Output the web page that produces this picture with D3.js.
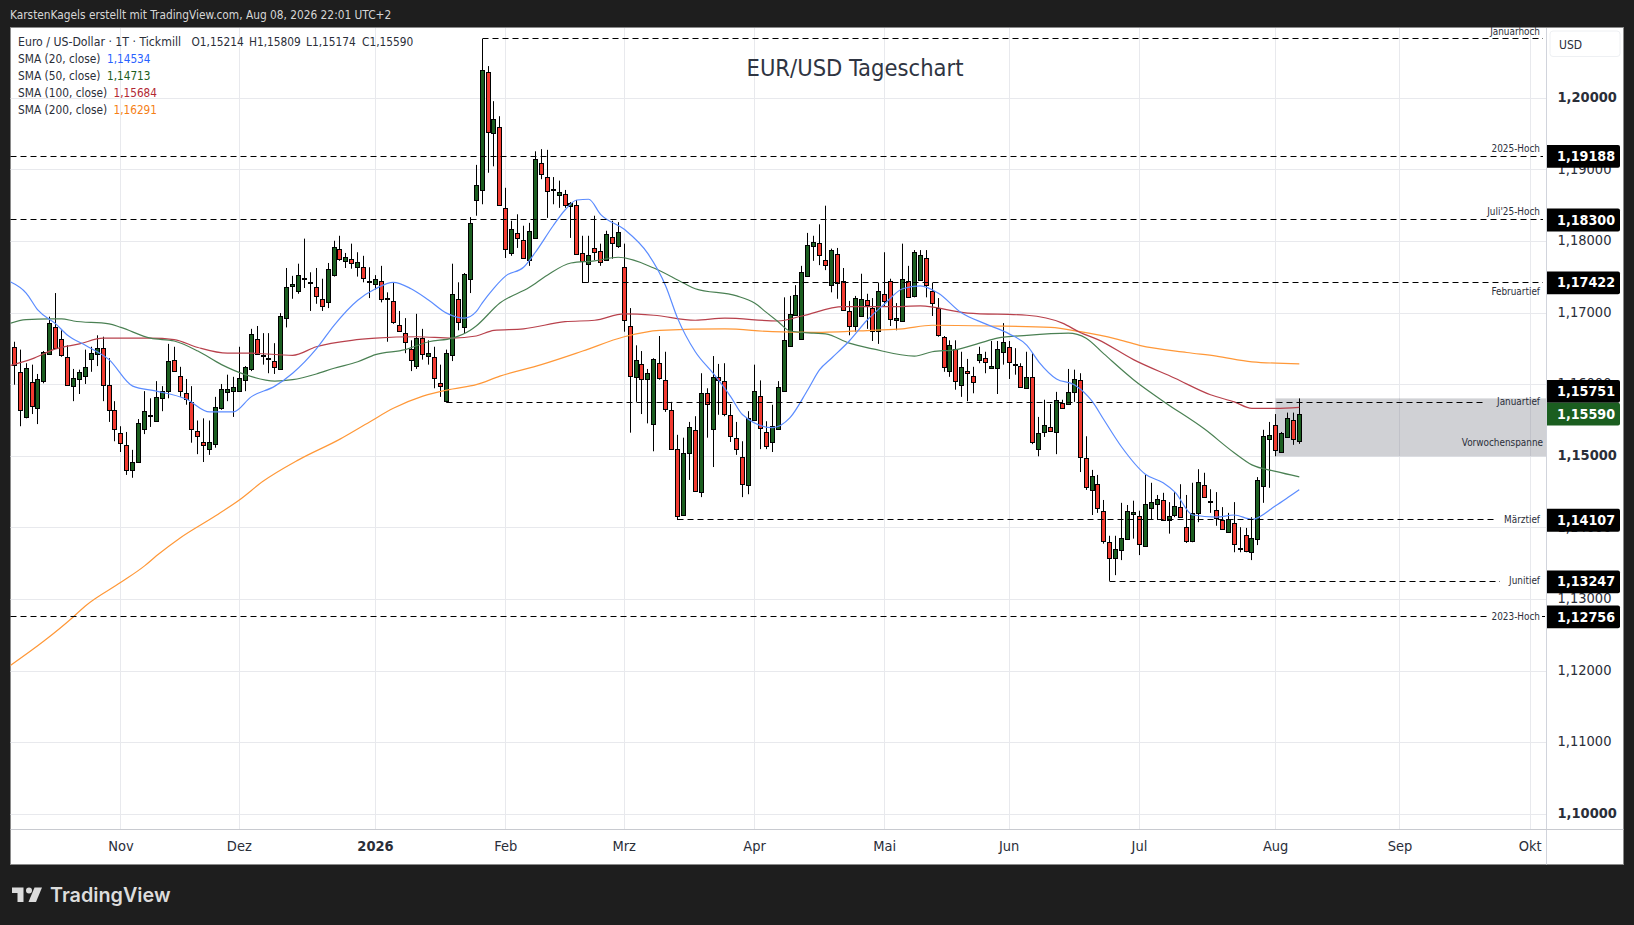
<!DOCTYPE html>
<html>
<head>
<meta charset="utf-8">
<title>EUR/USD Tageschart</title>
<script src="https://d3js.org/d3.v7.min.js"></script>
<style>
	html, body { margin: 0; padding: 0; background: #1e1e1e; overflow: hidden; }
	svg { display: block; }
	text { font-family: "DejaVu Sans Condensed", "DejaVu Sans", sans-serif; }
</style>
</head>
<body>
<svg id="chart" width="1634" height="925"></svg>
<script>
var opens = [
	1.1653,1.1618,1.1555,1.1604,1.1568,1.1605,1.1643,1.1680,1.1664,1.1639,
	1.1598,1.1608,1.1612,1.1635,1.1643,1.1651,1.1600,1.1565,1.1532,1.1516,
	1.1481,1.1491,1.1538,1.1557,1.1550,1.1581,1.1591,1.1635,1.1612,1.1588,
	1.1576,1.1535,1.1520,1.1510,1.1517,1.1568,1.1590,1.1591,1.1591,1.1607,
	1.1622,1.1664,1.1642,1.1636,1.1633,1.1622,1.1693,1.1738,1.1731,1.1748,
	1.1743,1.1736,1.1720,1.1715,1.1753,1.1790,1.1773,1.1776,1.1764,1.1764,
	1.1745,1.1741,1.1745,1.1721,1.1717,1.1683,1.1672,1.1650,1.1626,1.1665,
	1.1640,1.1639,1.1602,1.1577,1.1642,1.1720,1.1680,1.1748,1.1858,1.1873,
	1.2037,1.1952,1.1960,1.1847,1.1784,1.1812,1.1802,1.1774,1.1804,1.1910,
	1.1890,1.1873,1.1865,1.1866,1.1850,1.1851,1.1784,1.1769,1.1791,1.1787,
	1.1773,1.1806,1.1794,1.1764,1.1682,1.1611,1.1629,1.1608,1.1545,1.1630,
	1.1607,1.1565,1.1510,1.1419,1.1505,1.1537,1.1450,1.1588,1.1538,1.1611,
	1.1605,1.1558,1.1526,1.1499,1.1460,1.1551,1.1584,1.1534,1.1520,1.1538,
	1.1591,1.1654,1.1697,1.1664,1.1752,1.1794,1.1798,1.1774,1.1739,1.1783,
	1.1745,1.1703,1.1682,1.1696,1.1718,1.1707,1.1675,1.1727,1.1745,1.1690,
	1.1689,1.1745,1.1724,1.1746,1.1777,1.1731,1.1707,1.1667,1.1618,1.1650,
	1.1600,1.1619,1.1612,1.1635,1.1637,1.1623,1.1623,1.1646,1.1653,1.1629,
	1.1626,1.1595,1.1611,1.1510,1.1534,1.1541,1.1534,1.1574,1.1573,1.1590,
	1.1607,1.1498,1.1453,1.1461,1.1424,1.1380,1.1358,1.1369,1.1385,1.1419,
	1.1417,1.1375,1.1428,1.1433,1.1439,1.1412,1.1418,1.1429,1.1401,1.1382,
	1.1421,1.1460,1.1437,1.1425,1.1411,1.1394,1.1407,1.1372,1.1390,1.1366,
	1.1385,1.1458,1.1524,1.1544,1.1505,1.1526,1.1551,1.15214
]
var highs = [
	1.1660,1.1649,1.1630,1.1628,1.1615,1.1647,1.1695,1.1728,1.1676,1.1655,
	1.1622,1.1621,1.1649,1.1653,1.1669,1.1667,1.1637,1.1577,1.1542,1.1534,
	1.1509,1.1552,1.1591,1.1581,1.1605,1.1598,1.1657,1.1653,1.1625,1.1608,
	1.1598,1.1550,1.1553,1.1550,1.1583,1.1601,1.1614,1.1611,1.1653,1.1626,
	1.1678,1.1682,1.1672,1.1672,1.1658,1.1700,1.1763,1.1752,1.1769,1.1804,
	1.1757,1.1763,1.1748,1.1770,1.1801,1.1808,1.1784,1.1797,1.1785,1.1780,
	1.1764,1.1753,1.1766,1.1729,1.1743,1.1703,1.1693,1.1662,1.1699,1.1678,
	1.1662,1.1653,1.1628,1.1649,1.1769,1.1743,1.1756,1.1834,1.1907,1.2083,
	1.2045,1.1996,1.1975,1.1875,1.1829,1.1838,1.1822,1.1826,1.1926,1.1929,
	1.1928,1.1890,1.1885,1.1872,1.1855,1.1858,1.1808,1.1808,1.1836,1.1797,
	1.1815,1.1829,1.1827,1.1797,1.1707,1.1655,1.1647,1.1622,1.1637,1.1668,
	1.1646,1.1576,1.1530,1.1526,1.1548,1.1556,1.1616,1.1595,1.1640,1.1629,
	1.1630,1.1573,1.1548,1.1521,1.1563,1.1628,1.1606,1.1549,1.1572,1.1605,
	1.1722,1.1724,1.1739,1.1766,1.1812,1.1808,1.1824,1.1850,1.1790,1.1791,
	1.1763,1.1717,1.1724,1.1755,1.1727,1.1721,1.1742,1.1785,1.1748,1.1714,
	1.1797,1.1766,1.1788,1.1788,1.1788,1.1742,1.1721,1.1668,1.1662,1.1662,
	1.1646,1.1636,1.1625,1.1653,1.1646,1.1661,1.1661,1.1686,1.1661,1.1651,
	1.1630,1.1646,1.1644,1.1555,1.1579,1.1573,1.1590,1.1579,1.1622,1.1621,
	1.1616,1.1528,1.1481,1.1474,1.1439,1.1389,1.1389,1.1435,1.1432,1.1438,
	1.1424,1.1474,1.1463,1.1446,1.1449,1.1436,1.1450,1.1461,1.1446,1.1463,
	1.1482,1.1477,1.1454,1.1450,1.1429,1.1421,1.1436,1.1401,1.1400,1.1415,
	1.1471,1.1537,1.1548,1.1559,1.1534,1.1561,1.1561,1.15809
]
var lows = [
	1.1600,1.1542,1.1553,1.1559,1.1545,1.1602,1.1642,1.1650,1.1639,1.1600,
	1.1577,1.1587,1.1601,1.1618,1.1626,1.1577,1.1548,1.1521,1.1506,1.1474,
	1.1470,1.1491,1.1531,1.1541,1.1548,1.1563,1.1581,1.1619,1.1583,1.1572,
	1.1519,1.1503,1.1492,1.1502,1.1512,1.1565,1.1577,1.1555,1.1591,1.1591,
	1.1619,1.1642,1.1628,1.1616,1.1615,1.1622,1.1680,1.1720,1.1727,1.1735,
	1.1703,1.1713,1.1703,1.1707,1.1751,1.1773,1.1763,1.1762,1.1751,1.1743,
	1.1721,1.1733,1.1715,1.1660,1.1685,1.1674,1.1644,1.1619,1.1622,1.1635,
	1.1628,1.1595,1.1583,1.1575,1.1633,1.1676,1.1672,1.1728,1.1836,1.1852,
	1.1896,1.1905,1.1851,1.1777,1.1780,1.1791,1.1776,1.1766,1.1804,1.1887,
	1.1833,1.1852,1.1847,1.1847,1.1805,1.1783,1.1742,1.1743,1.1774,1.1766,
	1.1773,1.1776,1.1791,1.1674,1.1533,1.1576,1.1559,1.1546,1.1507,1.1607,
	1.1562,1.1510,1.1411,1.1417,1.1467,1.1452,1.1443,1.1526,1.1485,1.1558,
	1.1556,1.1520,1.1502,1.1443,1.1447,1.1551,1.1510,1.1510,1.1506,1.1537,
	1.1590,1.1653,1.1696,1.1664,1.1752,1.1773,1.1767,1.1760,1.1729,1.1720,
	1.1704,1.1669,1.1674,1.1695,1.1678,1.1661,1.1657,1.1710,1.1682,1.1676,
	1.1689,1.1722,1.1722,1.1746,1.1722,1.1696,1.1667,1.1618,1.1611,1.1593,
	1.1583,1.1577,1.1588,1.1630,1.1616,1.1622,1.1587,1.1628,1.1608,1.1614,
	1.1597,1.1595,1.1517,1.1500,1.1527,1.1535,1.1503,1.1567,1.1572,1.1576,
	1.1478,1.1453,1.1418,1.1421,1.1378,1.1326,1.1334,1.1355,1.1385,1.1385,
	1.1362,1.1375,1.1411,1.1411,1.1410,1.1392,1.1415,1.1414,1.1379,1.1380,
	1.1408,1.1442,1.1421,1.1403,1.1398,1.1394,1.1366,1.1366,1.1366,1.1355,
	1.1376,1.1435,1.1456,1.1500,1.1505,1.1526,1.1516,1.15174
]
var closes = [
	1.1628,1.1565,1.1623,1.1570,1.1608,1.1646,1.1686,1.1651,1.1642,1.1600,
	1.1609,1.1618,1.1625,1.1644,1.1651,1.1600,1.1565,1.1538,1.1518,1.1481,
	1.1492,1.1546,1.1563,1.1556,1.1583,1.1591,1.1633,1.1620,1.1591,1.1580,
	1.1538,1.1528,1.1516,1.1520,1.1569,1.1594,1.1594,1.1597,1.1609,1.1625,
	1.1671,1.1643,1.1641,1.1637,1.1625,1.1696,1.1736,1.1741,1.1753,1.1749,
	1.1741,1.1724,1.1710,1.1761,1.1792,1.1776,1.1778,1.1770,1.1771,1.1748,
	1.1744,1.1748,1.1720,1.1720,1.1688,1.1675,1.1660,1.1635,1.1665,1.1642,
	1.1644,1.1609,1.1598,1.1644,1.1727,1.1688,1.1754,1.1826,1.1879,1.2040,
	1.1953,1.1971,1.1851,1.1790,1.1817,1.1805,1.1777,1.1815,1.1915,1.1894,
	1.1871,1.1871,1.1869,1.1851,1.1854,1.1783,1.1773,1.1781,1.1785,1.1771,
	1.1810,1.1798,1.1813,1.1690,1.1612,1.1635,1.1608,1.1616,1.1636,1.1609,
	1.1567,1.1510,1.1417,1.1505,1.1541,1.1452,1.1588,1.1572,1.1611,1.1607,
	1.1559,1.1528,1.1510,1.1461,1.1553,1.1591,1.1540,1.1514,1.1542,1.1597,
	1.1662,1.1699,1.1725,1.1757,1.1795,1.1800,1.1781,1.1767,1.1788,1.1743,
	1.1704,1.1682,1.1721,1.1720,1.1711,1.1675,1.1731,1.1717,1.1692,1.1693,
	1.1748,1.1722,1.1785,1.1781,1.1739,1.1714,1.1669,1.1625,1.1655,1.1605,
	1.1625,1.1616,1.1604,1.1643,1.1632,1.1626,1.1650,1.1660,1.1632,1.1628,
	1.1597,1.1611,1.1520,1.1532,1.1544,1.1535,1.1579,1.1567,1.1590,1.1608,
	1.1500,1.1457,1.1472,1.1428,1.1382,1.1358,1.1371,1.1386,1.1424,1.1422,
	1.1378,1.1433,1.1436,1.1440,1.1411,1.1417,1.1430,1.1415,1.1382,1.1421,
	1.1464,1.1443,1.1436,1.1414,1.1398,1.1412,1.1378,1.1371,1.1368,1.1386,
	1.1467,1.1528,1.1530,1.1509,1.1532,1.1553,1.1524,1.15590
]

var sma20Bars = [-1,2,4,7,9,12,16,20,24,29,33,37,40,44,47,51,54,58,61,64,67,70,73,76,78,79,81,83,86,88,91,93,95,97,99,103,107,110,112,115,118,121,123,128,131,134,136,138,141,144,147,150,153,156,160,164,168,171,173,176,179,182,184,187,191,194,196,199,203,206,209,213,215,217]
var sma20 = [1.1745,1.1728,1.1704,1.1685,1.1669,1.1655,1.1635,1.1598,1.1591,1.1580,1.1562,1.1562,1.1583,1.1598,1.1616,1.1650,1.1683,1.1718,1.1734,1.1743,1.1734,1.1718,1.1700,1.1693,1.1702,1.1714,1.1735,1.1752,1.1764,1.1785,1.1822,1.1844,1.1858,1.1859,1.1838,1.1817,1.1783,1.1738,1.1693,1.1646,1.1616,1.1583,1.1558,1.1540,1.1554,1.1593,1.1621,1.1637,1.1661,1.1690,1.1713,1.1734,1.1738,1.1728,1.1700,1.1685,1.1671,1.1655,1.1632,1.1608,1.1600,1.1577,1.1551,1.1513,1.1475,1.1463,1.1450,1.1418,1.1415,1.1418,1.1412,1.1431,1.1442,1.14534]

var sma50Bars = [-1,2,6,8,10,16,18,23,27,31,35,39,44,47,51,54,58,61,66,70,74,77,78,82,87,90,94,98,102,108,113,115,122,125,127,129,131,135,137,141,145,152,155,159,163,166,171,178,181,184,189,194,201,206,209,213,217]
var sma50 = [1.1685,1.1691,1.1692,1.1692,1.1689,1.1685,1.1680,1.1665,1.1661,1.1647,1.1628,1.1614,1.1605,1.1607,1.1615,1.1623,1.1632,1.1642,1.1649,1.1660,1.1665,1.1676,1.1682,1.1714,1.1736,1.1753,1.1770,1.1773,1.1778,1.1763,1.1742,1.1734,1.1724,1.1714,1.1701,1.1688,1.1675,1.1672,1.1671,1.1658,1.1650,1.1640,1.1646,1.1649,1.1658,1.1665,1.1669,1.1672,1.1665,1.1643,1.1607,1.1577,1.1538,1.1505,1.1488,1.1479,1.14713]

var sma100Bars = [-1,3,7,11,15,23,27,31,36,40,47,51,57,61,68,74,78,81,86,93,98,103,108,115,120,129,133,140,148,153,161,171,177,180,183,189,196,202,206,209,213,217]
var sma100 = [1.1626,1.1636,1.1650,1.1657,1.1665,1.1665,1.1663,1.1652,1.1644,1.1644,1.1641,1.1653,1.1662,1.1665,1.1667,1.1665,1.1668,1.1676,1.1678,1.1688,1.1690,1.1699,1.1697,1.1690,1.1693,1.1689,1.1696,1.1709,1.1709,1.1710,1.1700,1.1697,1.1686,1.1673,1.1663,1.1635,1.1609,1.1586,1.1576,1.1567,1.1567,1.15684]

var sma200Bars = [-1,5,10,12,18,22,24,28,34,38,42,48,55,60,64,69,74,78,82,89,96,103,109,120,128,135,145,150,155,165,175,180,186,190,198,203,209,217]
var sma200 = [1.1206,1.1242,1.1276,1.1291,1.1324,1.1347,1.1361,1.1386,1.1417,1.1439,1.1465,1.1495,1.1524,1.1548,1.1567,1.1584,1.1594,1.1600,1.1612,1.1628,1.1647,1.1667,1.1676,1.1678,1.1674,1.1673,1.1676,1.1678,1.1683,1.1682,1.1680,1.1674,1.1664,1.1655,1.1645,1.1640,1.1632,1.16291]

var monthBars = [18,38,61,83,103,125,147,168,190,213,234,256]
var monthLabels = ['Nov','Dez','2026','Feb','Mrz','Apr','Mai','Jun','Jul','Aug','Sep','Okt']
var priceTicks = [1.10,1.11,1.12,1.13,1.14,1.15,1.16,1.17,1.18,1.19,1.20]

var levelNames = ['Januarhoch','2025-Hoch',"Juli'25-Hoch",'Februartief','Januartief','Märztief','Junitief','2023-Hoch']
var levelPrices = [1.20828,1.19188,1.18300,1.17422,1.15751,1.14107,1.13247,1.12756]
var levelFromBar = [79,-1,-1,96,73,112,185,-1]

var rangeTop = 1.15809
var rangeBottom = 1.15000
var rangeFromBar = 213
var lastPrice = 1.15590

var upColor = '#1b5e20'
var downColor = '#f23a30'
var gridColor = '#e8e9ed'
var textColor = '#2a2e39'

var plotLeft = 10.5, plotRight = 1546.5, plotTop = 27, plotBottom = 829.5
var frameRight = 1623.5, frameBottom = 864.5

var x = d3.scaleLinear().domain([0, 217]).range([14.3, 1299.3])
var y = d3.scaleLinear().domain([1.10, 1.20]).range([814.3, 98.3])

function crisp(v){
	return Math.floor(v) + 0.5
}
function comma(v, digits){
	return v.toFixed(digits).replace('.', ',')
}

var svg = d3.select('#chart')

svg.append('rect').attr('x', plotLeft).attr('y', 27.5).attr('width', frameRight - plotLeft).attr('height', frameBottom - 27.5)
	.style('fill', 'white').style('stroke', '#8a8a8a').style('stroke-width', 1)

var defs = svg.append('defs')
defs.append('clipPath').attr('id', 'plotclip').append('rect')
	.attr('x', plotLeft).attr('y', plotTop).attr('width', plotRight - plotLeft).attr('height', plotBottom - plotTop)

// grid
var grid = svg.append('g')
grid.selectAll('.vgrid').data(monthBars).enter().append('line')
	.attr('class', 'vgrid')
	.attr('x1', function(d){ return crisp(x(d)) })
	.attr('x2', function(d){ return crisp(x(d)) })
	.attr('y1', 28).attr('y2', plotBottom)
	.style('stroke', gridColor)
grid.selectAll('.hgrid').data(priceTicks).enter().append('line')
	.attr('class', 'hgrid')
	.attr('x1', plotLeft).attr('x2', plotRight)
	.attr('y1', function(d){ return crisp(y(d)) })
	.attr('y2', function(d){ return crisp(y(d)) })
	.style('stroke', gridColor)

// Vorwochenspanne box
svg.append('rect')
	.attr('x', x(rangeFromBar))
	.attr('y', y(rangeTop))
	.attr('width', plotRight - x(rangeFromBar))
	.attr('height', y(rangeBottom) - y(rangeTop))
	.style('fill', 'rgba(120,123,134,0.35)')

var plot = svg.append('g').attr('clip-path', 'url(#plotclip)')

// candles
var bars = d3.range(opens.length)
plot.selectAll('.wick').data(bars).enter().append('line')
	.attr('class', 'wick')
	.attr('x1', function(i){ return crisp(x(i)) })
	.attr('x2', function(i){ return crisp(x(i)) })
	.attr('y1', function(i){ return y(highs[i]) })
	.attr('y2', function(i){ return y(lows[i]) })
	.style('stroke', 'black')
	.style('stroke-width', 1)
plot.selectAll('.body').data(bars).enter().append('rect')
	.attr('class', 'body')
	.attr('x', function(i){ return crisp(x(i)) - 2 })
	.attr('width', 4)
	.attr('y', function(i){ return Math.round(y(Math.max(opens[i], closes[i]))) + 0.5 })
	.attr('height', function(i){
		return Math.max(1, Math.round(Math.abs(y(opens[i]) - y(closes[i]))))
	})
	.style('fill', function(i){ return closes[i] >= opens[i] ? upColor : downColor })
	.style('stroke', 'black')
	.style('stroke-width', 1)

// moving averages
var smaLines = [
	{bars: sma200Bars, vals: sma200, color: '#ff9838'},
	{bars: sma100Bars, vals: sma100, color: '#b8414c'},
	{bars: sma50Bars, vals: sma50, color: '#4a8053'},
	{bars: sma20Bars, vals: sma20, color: '#5b8cff'}
]
var lineGen = d3.line()
	.x(function(d){ return x(d[0]) })
	.y(function(d){ return y(d[1]) })
	.curve(d3.curveMonotoneX)
plot.selectAll('.sma').data(smaLines).enter().append('path')
	.attr('class', 'sma')
	.attr('d', function(s){ return lineGen(d3.zip(s.bars, s.vals)) })
	.style('fill', 'none')
	.style('stroke', function(s){ return s.color })
	.style('stroke-width', 1.2)

// dashed levels, the ones with an inline label leave a gap for it
var lineEnd = 1543
var gapStart = {'Januartief': 1486, 'Märztief': 1497, 'Junitief': 1500, '2023-Hoch': 1490}
var levelG = svg.append('g')
levelNames.forEach(function(name, i){
	var ly = crisp(y(levelPrices[i]) - 0.3)
	var from = levelFromBar[i] < 0 ? plotLeft : crisp(x(levelFromBar[i]))
	var to = gapStart[name] || lineEnd
	levelG.append('line')
		.attr('x1', from).attr('x2', to).attr('y1', ly).attr('y2', ly)
		.style('stroke', 'black').style('stroke-dasharray', '6 4').style('stroke-width', 1)
})
levelG.append('line').attr('x1', 1542).attr('x2', 1545)
	.attr('y1', crisp(y(1.12756) - 0.3)).attr('y2', crisp(y(1.12756) - 0.3))
	.style('stroke', 'black')

var levelLabelY = {'Januarhoch': 32, '2025-Hoch': 148.5, "Juli'25-Hoch": 212, 'Februartief': 292, 'Januartief': 402, 'Märztief': 520, 'Junitief': 581, '2023-Hoch': 617}
levelG.selectAll('.levellabel').data(levelNames).enter().append('text')
	.attr('class', 'levellabel')
	.attr('x', 1540)
	.attr('y', function(d){ return levelLabelY[d] })
	.attr('dy', '0.35em')
	.attr('text-anchor', 'end')
	.style('font-size', '9.9px')
	.style('fill', textColor)
	.text(function(d){ return d })
levelG.append('text').attr('x', 1543).attr('y', 442.5).attr('dy', '0.35em')
	.attr('text-anchor', 'end').style('font-size', '9.9px').style('fill', textColor)
	.text('Vorwochenspanne')

// axes
svg.append('line').attr('x1', plotRight).attr('x2', plotRight).attr('y1', 28).attr('y2', frameBottom)
	.style('stroke', '#d1d4dc')
svg.append('line').attr('x1', plotLeft).attr('x2', frameRight).attr('y1', plotBottom).attr('y2', plotBottom)
	.style('stroke', '#c8cad0')

var xAxis = d3.axisBottom(x)
	.tickValues(monthBars)
	.tickSize(0)
	.tickPadding(11)
	.tickFormat(function(d, i){ return monthLabels[i] })
var xAxisG = svg.append('g').attr('transform', 'translate(-0.5,' + plotBottom + ')').call(xAxis)
xAxisG.select('.domain').remove()
xAxisG.selectAll('text')
	.style('font-family', '"DejaVu Sans Condensed", "DejaVu Sans", sans-serif')
	.style('font-size', '14.5px')
	.style('fill', textColor)
	.style('font-weight', function(d, i){ return monthLabels[i] == '2026' ? 'bold' : 'normal' })

var yAxis = d3.axisRight(y)
	.tickValues(priceTicks)
	.tickSize(0)
	.tickPadding(11)
	.tickFormat(function(d){ return comma(d, 5) })
var yAxisG = svg.append('g').attr('transform', 'translate(' + plotRight + ',-1.5)').call(yAxis)
yAxisG.select('.domain').remove()
yAxisG.selectAll('text')
	.style('font-family', '"DejaVu Sans Condensed", "DejaVu Sans", sans-serif')
	.style('font-size', '14.5px')
	.style('fill', textColor)
	.style('font-weight', function(d){
		return (Math.abs(d - 1.2) < 1e-6 || Math.abs(d - 1.15) < 1e-6 || Math.abs(d - 1.1) < 1e-6) ? 'bold' : 'normal'
	})

// price tags
var tagPrices = levelPrices.slice(1)
var tagG = svg.append('g')
function priceTag(price, cy, color){
	tagG.append('path')
		.attr('d', 'M' + (plotRight + 0.5) + ',' + (cy - 11.4) + 'H1618a2,2 0 0 1 2,2V' + (cy + 9.4) + 'a2,2 0 0 1 -2,2H' + (plotRight + 0.5) + 'Z')
		.style('fill', color)
	tagG.append('text')
		.attr('x', 1557).attr('y', cy - 0.5).attr('dy', '0.36em')
		.style('font-size', '14.2px').style('font-weight', 'bold').style('fill', 'white')
		.text(comma(price, 5))
}
tagPrices.forEach(function(p){
	// the Januartief tag is pushed up by the last price tag below it
	var cy = p == 1.15751 ? 391.4 : y(p)
	priceTag(p, cy, 'black')
})
priceTag(lastPrice, y(lastPrice), upColor)

// USD box
svg.append('rect').attr('x', 1550).attr('y', 31).attr('width', 70).attr('height', 25.5).attr('rx', 3)
	.style('fill', 'white').style('stroke', '#eef0f3')
svg.append('text').attr('x', 1559).attr('y', 44.5).attr('dy', '0.35em')
	.style('font-size', '12px').style('fill', textColor).text('USD')

// title
svg.append('text').attr('x', 855).attr('y', 68).attr('dy', '0.35em').attr('text-anchor', 'middle')
	.style('font-size', '23.5px').style('fill', '#2f3542').text('EUR/USD Tageschart')

// legend
var legendNames = ['SMA (20, close)', 'SMA (50, close)', 'SMA (100, close)', 'SMA (200, close)']
var legendVals = [sma20[sma20.length - 1], sma50[sma50.length - 1], sma100[sma100.length - 1], sma200[sma200.length - 1]]
var legendColors = ['#2962ff', '#1b5e20', '#b22833', '#f57f17']
var legendX = [107, 107, 113.5, 113.5]
var last = opens.length - 1
var ohlcLabels = ['O' + comma(opens[last], 5), 'H' + comma(highs[last], 5), 'L' + comma(lows[last], 5), 'C' + comma(closes[last], 5)]
var ohlcX = [191.5, 249, 306, 362]
svg.append('text').attr('x', 18).attr('y', 42).attr('dy', '0.35em')
	.style('font-size', '12.2px').style('fill', textColor).text('Euro / US-Dollar · 1T · Tickmill')
svg.selectAll('.ohlc').data(ohlcLabels).enter().append('text')
	.attr('class', 'ohlc')
	.attr('x', function(d, i){ return ohlcX[i] })
	.attr('y', 42)
	.attr('dy', '0.35em')
	.style('font-size', '11.8px').style('fill', textColor)
	.text(function(d){ return d })
svg.selectAll('.legname').data(legendNames).enter().append('text')
	.attr('class', 'legname')
	.attr('x', 18)
	.attr('y', function(d, i){ return 59 + i * 17 })
	.attr('dy', '0.35em')
	.style('font-size', '11.8px').style('fill', textColor)
	.text(function(d){ return d })
svg.selectAll('.legval').data(legendVals).enter().append('text')
	.attr('class', 'legval')
	.attr('x', function(d, i){ return legendX[i] })
	.attr('y', function(d, i){ return 59 + i * 17 })
	.attr('dy', '0.35em')
	.style('font-size', '11.7px')
	.style('fill', function(d, i){ return legendColors[i] })
	.text(function(d){ return comma(d, 5) })

// header and footer
svg.append('text').attr('x', 10).attr('y', 15).attr('dy', '0.35em')
	.style('font-size', '11.8px').style('fill', '#d6d6d6')
	.text('KarstenKagels erstellt mit TradingView.com, Aug 08, 2026 22:01 UTC+2')

var logo = svg.append('g').style('fill', '#dcdcdc')
logo.append('path').attr('d', 'M12,887.5H23.5V902H17.5V893H12Z')
logo.append('circle').attr('cx', 29).attr('cy', 890.5).attr('r', 3)
logo.append('path').attr('d', 'M34.5,887.5H42L36,902H28.5Z')
svg.append('text').attr('x', 50).attr('y', 895).attr('dy', '0.35em')
	.style('font-family', 'Inter, "Open Sans", sans-serif')
	.style('font-size', '19.8px').style('font-weight', 600).style('fill', '#dcdcdc')
	.text('TradingView')
</script>
</body>
</html>
